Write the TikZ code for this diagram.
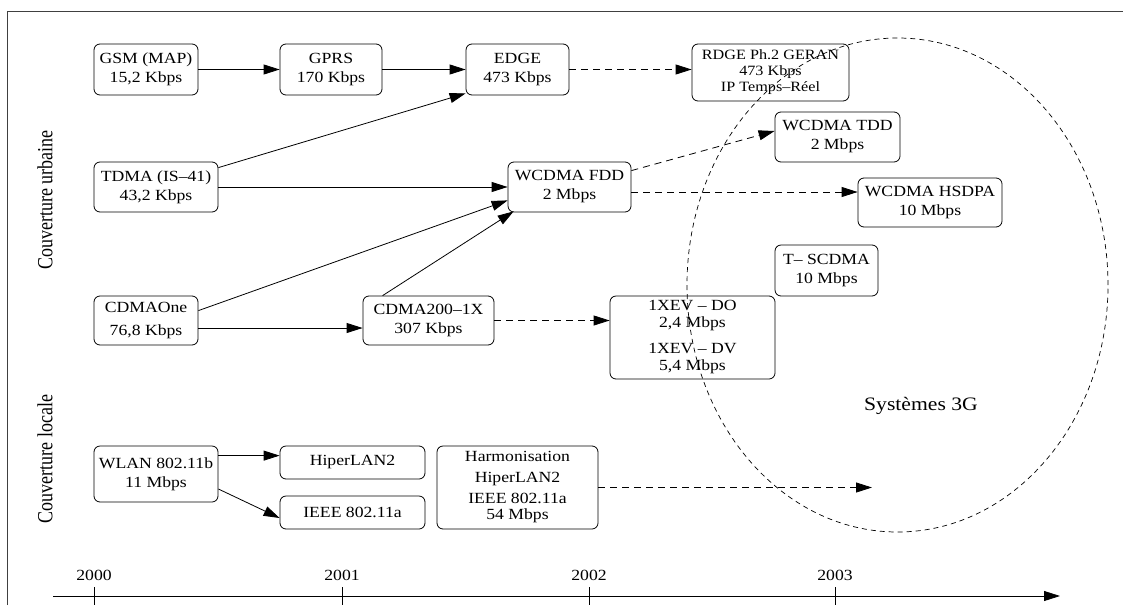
\documentclass[tikz,border=0pt]{standalone}
\usepackage{graphicx}
\usepackage{fontspec}
\setmainfont{Liberation Serif}[FakeStretch=1.14]
\newfontfamily\plainserif{Liberation Serif}
\usetikzlibrary{arrows.meta}
\begin{document}
\begin{tikzpicture}[x=1pt,y=-1pt,
  box/.style={draw, rounded corners=6pt, line width=0.8pt, align=center, inner sep=0pt,
              font=\fontsize{15.5}{19}\selectfont},
  arr/.style={line width=0.8pt, -{Triangle[length=16pt,width=10pt]}},
  darr/.style={arr, dash pattern=on 7pt off 5pt},
  yearlbl/.style={font=\fontsize{15.5}{19}\selectfont, inner sep=0pt},
  sidelbl/.style={rotate=90, inner sep=0pt, font=\plainserif\fontsize{18}{18}\selectfont},
  tickline/.style={line width=0.8pt}
]
\useasboundingbox (0,0) rectangle (1123,605);
% frame
\draw[line width=1pt, black!75] (7,605) -- (7,11) -- (1123,11);

% side labels
\node[sidelbl] (urb) at (45,200) {\scalebox{1}[1.2]{Couverture urbaine}};
\node[sidelbl] (loc) at (45,459) {\scalebox{1}[1.2]{Couverture locale}};

% boxes
\node[box, minimum width=104pt, minimum height=51pt] (gsm) at (146,69.5) {GSM (MAP)\\15,2 Kbps};
\node[box, minimum width=102pt, minimum height=51pt] (gprs) at (331,69.5) {GPRS\\170 Kbps};
\node[box, minimum width=103pt, minimum height=51pt] (edge) at (517.5,69.5) {EDGE\\473 Kbps};
\node[box, minimum width=157pt, minimum height=57pt, font=\fontsize{14.2}{16}\selectfont] (rdge) at (770.5,72.5) {RDGE Ph.2 GERAN\\473 Kbps\\IP Temps--Réel};
\node[box, minimum width=124pt, minimum height=50pt] (tdma) at (156,187) {TDMA (IS--41)\\43,2 Kbps};
\node[box, minimum width=123pt, minimum height=50pt] (fdd) at (569.5,187) {WCDMA FDD\\2 Mbps};
\node[box, minimum width=125pt, minimum height=50pt] (tdd) at (837.5,137) {WCDMA TDD\\2 Mbps};
\node[box, minimum width=144pt, minimum height=49pt] (hsdpa) at (930,202.5) {WCDMA HSDPA\\10 Mbps};
\node[box, minimum width=103pt, minimum height=51pt] (tscdma) at (826.5,270.5) {T-- SCDMA\\10 Mbps};
\node[box, minimum width=104pt, minimum height=49pt, font=\fontsize{15.5}{23}\selectfont] (cdmaone) at (146,320.5) {CDMAOne\\76,8 Kbps};
\node[box, minimum width=131pt, minimum height=49pt] (cdma) at (428.5,320.5) {CDMA200--1X\\307 Kbps};
\node[box, minimum width=165pt, minimum height=83pt, font=\fontsize{15.5}{17}\selectfont] (xev) at (692.5,337.5) {1XEV -- DO\\2,4 Mbps\\[9pt]1XEV -- DV\\5,4 Mbps};
\node[box, minimum width=124pt, minimum height=56pt] (wlan) at (156,474) {WLAN 802.11b\\11 Mbps};
\node[box, minimum width=145pt, minimum height=33pt] (hiper) at (352.5,462.5) {HiperLAN2};
\node[box, minimum width=145pt, minimum height=33pt] (ieee) at (352.5,512.5) {IEEE 802.11a};
\node[box, minimum width=161pt, minimum height=83pt, font=\fontsize{15.5}{21}\selectfont] (harmo) at (517.5,487.5) {Harmonisation\\HiperLAN2\\IEEE 802.11a\\[-5pt]54 Mbps};

% 3G ellipse
\draw[line width=0.7pt, dash pattern=on 5pt off 4pt] (897.5,285) ellipse [x radius=210.5pt, y radius=247pt];
\node[font=\fontsize{19}{22}\selectfont, inner sep=0pt] (sys3g) at (921,406) {Systèmes 3G};

% connectors
\draw[arr] (gsm.east) -- (gprs.west);
\draw[arr] (gprs.east) -- (edge.west);
\draw[darr] (edge.east) -- (edge.east -| rdge.west);
\draw[arr] ([yshift=-6pt]tdma.north east) -- ([yshift=2pt]edge.south west);
\draw[arr] (tdma.east) -- (fdd.west);
\draw[arr] ([yshift=-15pt]cdmaone.north east) -- ([yshift=12pt]fdd.south west);
\draw[arr] ([yshift=-7.5pt]cdmaone.east) -- ([yshift=-7.5pt]cdma.west);
\draw[arr] ([xshift=20pt]cdma.north west) -- ([xshift=6pt,yshift=1pt]fdd.south west);
\draw[darr] (cdma.east) -- (cdma.east -| xev.west);
\draw[darr] ([yshift=-9pt]fdd.north east) -- ([yshift=6pt]tdd.west);
\draw[darr] ([yshift=-5pt]fdd.east) -- ([yshift=-5pt]fdd.east -| hsdpa.west);
\draw[arr] ([yshift=-10pt]wlan.north east) -- ([yshift=-10pt]wlan.north east -| hiper.west);
\draw[arr] ([yshift=-15pt]wlan.east) -- ([yshift=-5.5pt]ieee.west);
\coordinate (h3g) at (872,487.5);
\draw[darr] (harmo.east) -- (h3g);

% timeline
\coordinate (tl0) at (53,596);
\coordinate (tl1) at (1060,596);
\draw[arr] (tl0) -- (tl1);
\foreach \xx/\yy in {94/2000, 342/2001, 589/2002, 835/2003}{
  \draw[tickline] (\xx,587) -- (\xx,605);
  \node[yearlbl] (y\yy) at (\xx,575) {\yy};
}
\end{tikzpicture}
\end{document}
